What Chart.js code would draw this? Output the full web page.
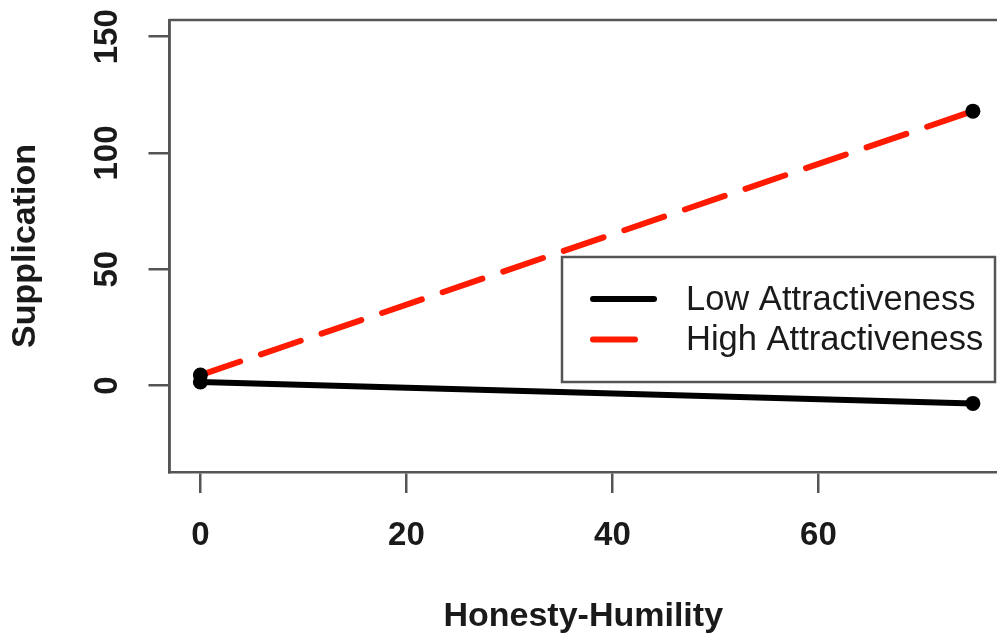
<!DOCTYPE html>
<html>
<head>
<meta charset="utf-8">
<script src="https://cdn.jsdelivr.net/npm/chart.js@4.4.1/dist/chart.umd.min.js"></script>
<style>
  html, body { margin: 0; padding: 0; background: #ffffff; }
  #wrap { width: 997px; height: 640px; }
</style>
</head>
<body>
<div id="wrap"><canvas id="c" width="997" height="640"></canvas></div>
<script>
// ---- data ----
const seriesNames = ["Low Attractiveness", "High Attractiveness"];
const honestyHumility = [0, 75];
const lowAttractiveness = [1.5, -7.7];
const highAttractiveness = [4.5, 118];
const xTicks = [0, 20, 40, 60];
const yTicks = [0, 50, 100, 150];
const xTitle = "Honesty-Humility";
const yTitle = "Supplication";

const toPoints = (xs, ys) => xs.map((x, i) => ({ x: x, y: ys[i] }));

const AXIS_COLOR = '#555555';
const TEXT_COLOR = '#1a1a1a';
const FONT = "'Liberation Sans', Arial, Helvetica, sans-serif";

const boxPlugin = {
  id: 'boxPlugin',
  afterDraw(chart) {
    const { ctx, chartArea } = chart;
    ctx.save();
    ctx.strokeStyle = AXIS_COLOR;
    ctx.lineWidth = 2.5;
    ctx.lineJoin = 'round';
    ctx.beginPath();
    ctx.moveTo(chartArea.left, chartArea.bottom);
    ctx.lineTo(chartArea.left, chartArea.top);
    ctx.lineTo(chart.width + 10, chartArea.top);
    ctx.stroke();
    ctx.restore();
  }
};

const legendPlugin = {
  id: 'boxLegend',
  afterDatasetsDraw(chart) {
    const { ctx } = chart;
    const bx = 562, by = 257, bw = 433, bh = 125;
    ctx.save();
    ctx.fillStyle = '#ffffff';
    ctx.fillRect(bx, by, bw, bh);
    ctx.strokeStyle = AXIS_COLOR;
    ctx.lineWidth = 2.5;
    ctx.strokeRect(bx, by, bw, bh);
    chart.data.datasets.forEach((ds, i) => {
      const y = 299 + i * 40.5;
      ctx.beginPath();
      ctx.strokeStyle = ds.borderColor;
      ctx.lineWidth = ds.borderWidth;
      ctx.lineCap = 'round';
      ctx.setLineDash(ds.borderDash || []);
      ctx.moveTo(593, y);
      ctx.lineTo(654, y);
      ctx.stroke();
      ctx.setLineDash([]);
      ctx.fillStyle = TEXT_COLOR;
      ctx.font = "34.5px " + FONT;
      ctx.textBaseline = 'middle';
      ctx.textAlign = 'left';
      ctx.fillText(ds.label, 686, y + 1);
    });
    ctx.restore();
  }
};

new Chart(document.getElementById('c'), {
  type: 'line',
  data: {
    datasets: [
      {
        label: seriesNames[0],
        data: toPoints(honestyHumility, lowAttractiveness),
        borderColor: '#000000',
        borderWidth: 6,
        borderCapStyle: 'round',
        pointRadius: 7.5,
        pointBackgroundColor: '#000000',
        pointBorderWidth: 0,
        fill: false,
        tension: 0
      },
      {
        label: seriesNames[1],
        data: toPoints(honestyHumility, highAttractiveness),
        borderColor: '#ff1a00',
        borderWidth: 6,
        borderDash: [42, 22],
        borderCapStyle: 'round',
        pointRadius: 7.5,
        pointBackgroundColor: '#000000',
        pointBorderWidth: 0,
        fill: false,
        tension: 0
      }
    ]
  },
  options: {
    responsive: false,
    animation: false,
    devicePixelRatio: 1,
    layout: { autoPadding: false, padding: { top: 20, left: 0, right: 0, bottom: 0 } },
    plugins: {
      legend: { display: false },
      tooltip: { enabled: false }
    },
    scales: {
      x: {
        type: 'linear',
        min: -3,
        max: 77.34,
        afterBuildTicks(scale) { scale.ticks = xTicks.map(v => ({ value: v })); },
        afterFit(scale) {
          scale.height = 168;
          scale.paddingLeft = 0; scale.paddingRight = 0;
        },
        grid: { drawOnChartArea: false, drawTicks: true, tickLength: 21, color: AXIS_COLOR, lineWidth: 2.5 },
        border: { display: true, color: AXIS_COLOR, width: 2.5 },
        ticks: {
          color: TEXT_COLOR,
          padding: 22.7,
          maxRotation: 0,
          minRotation: 0,
          autoSkip: false,
          font: { family: FONT, size: 33, weight: 'bold' },
          callback: (v) => String(v)
        },
        title: {
          display: true,
          text: xTitle,
          color: TEXT_COLOR,
          font: { family: FONT, size: 34, weight: 'bold' },
          padding: { top: 0, bottom: 2.6 }
        }
      },
      y: {
        type: 'linear',
        min: -37.2,
        max: 157.2,
        afterBuildTicks(scale) { scale.ticks = yTicks.map(v => ({ value: v })); },
        afterFit(scale) {
          scale.width = 169.5;
          scale.paddingTop = 0; scale.paddingBottom = 0;
        },
        grid: { drawOnChartArea: false, drawTicks: true, tickLength: 21, color: AXIS_COLOR, lineWidth: 2.5 },
        border: { display: true, color: AXIS_COLOR, width: 2.5 },
        ticks: {
          color: TEXT_COLOR,
          padding: 13.5,
          minRotation: 90,
          maxRotation: 90,
          crossAlign: 'center',
          autoSkip: false,
          font: { family: FONT, size: 33, weight: 'bold' },
          callback: (v) => String(v)
        },
        title: {
          display: true,
          text: yTitle,
          color: TEXT_COLOR,
          font: { family: FONT, size: 34, weight: 'bold' },
          padding: { top: 5, bottom: 0 }
        }
      }
    }
  },
  plugins: [boxPlugin, legendPlugin]
});
</script>
</body>
</html>
